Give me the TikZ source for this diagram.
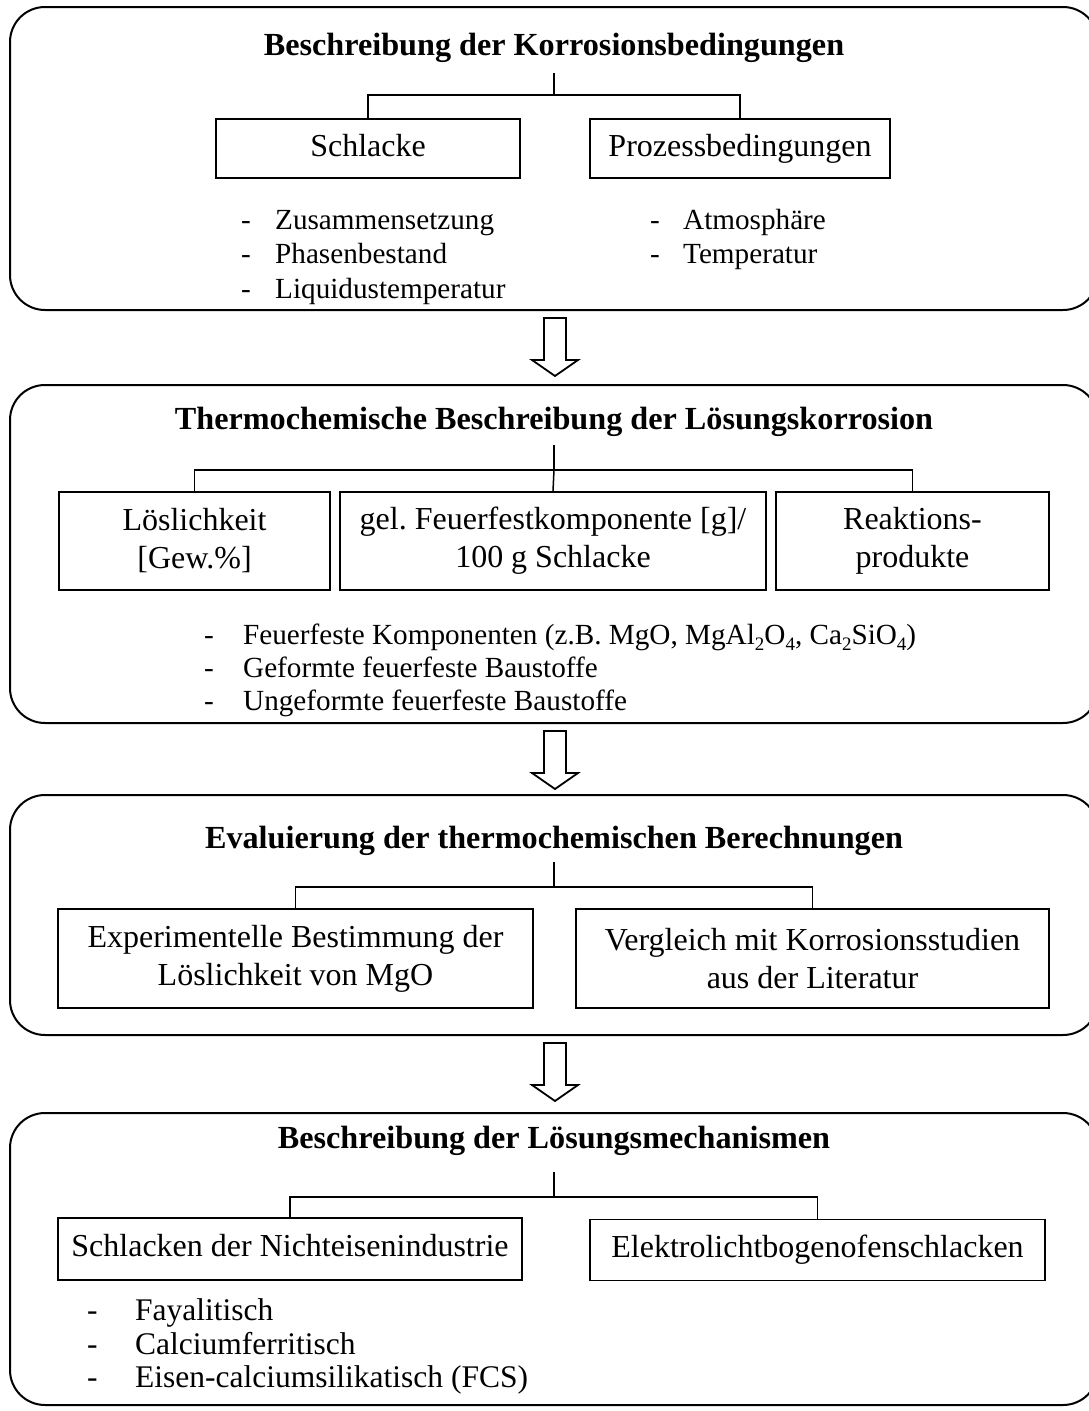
\documentclass[tikz,border=0pt]{standalone}
\usepackage{fontspec}
\setmainfont{Liberation Serif}
\usetikzlibrary{calc}
\newcommand\chemsub[1]{\raisebox{-0.22em}{\fontsize{19}{19}\selectfont #1}}
\begin{document}
\frenchspacing
\begin{tikzpicture}[x=1pt,y=-1pt,
  font=\fontsize{32}{34}\selectfont,
  outer/.style={draw, line width=2pt, rounded corners=35pt, minimum width=1088pt, inner sep=0pt},
  inbox/.style={draw, line width=1.8pt, inner sep=0pt, align=center, text height=22pt, text depth=7pt},
  inboxtwo/.style={draw, line width=1.8pt, inner sep=0pt, align=center, font=\fontsize{32}{38}\selectfont},
  title/.style={font=\fontsize{32.2}{34}\selectfont\bfseries, anchor=base, inner sep=0pt},
  tree/.style={line width=1.5pt},
  hollow/.style={draw, line width=1.8pt, fill=white, line join=miter},
  item/.style={anchor=base west, inner sep=0pt, font=\fontsize{29.2}{34}\selectfont},
  itembig/.style={anchor=base west, inner sep=0pt, font=\fontsize{31.5}{34}\selectfont}
]
\useasboundingbox (0,0) rectangle (1089,1411);
\clip (0,0) rectangle (1089,1411);

% outer boxes
\node[outer, minimum height=303pt] (B1) at (554,158.5) {};
\node[outer, minimum height=338pt] (B2) at (554,554) {};
\node[outer, minimum height=240pt] (B3) at (554,915) {};
\node[outer, minimum height=292pt] (B4) at (554,1259) {};

% hollow arrows
\foreach \b in {B1,B2,B3}{
  \coordinate (a) at ($(\b.south)+(1,7)$);
  \draw[hollow] ($(a)+(-11,0)$) -- ($(a)+(11,0)$) -- ($(a)+(11,42)$) -- ($(a)+(23,42)$)
    -- ($(a)+(0,58)$) -- ($(a)+(-23,42)$) -- ($(a)+(-11,42)$) -- cycle;
}

% ---- Box 1
\node[title] (T1) at (554,55) {Beschreibung der Korrosionsbedingungen};
\node[inbox, minimum width=304pt, minimum height=59pt] (S1) at (368,148.5) {Schlacke};
\node[inbox, minimum width=300pt, minimum height=59pt] (S2) at (740,148.5) {Prozessbedingungen};
\coordinate (v1) at (554,73);
\coordinate (j1) at (554,95);
\draw[tree] (v1) -- (j1);
\draw[tree] (S1.north) |- (j1) -| (S2.north);
\node[item] (l11) at (241,229) {\makebox[34pt][l]{-}Zusammensetzung};
\node[item] (l12) at (241,263) {\makebox[34pt][l]{-}Phasenbestand};
\node[item] (l13) at (241,298) {\makebox[34pt][l]{-}Liquidustemperatur};
\node[item] (r11) at (650,229) {\makebox[33pt][l]{-}Atmosphäre};
\node[item] (r12) at (650,263) {\makebox[33pt][l]{-}Temperatur};

% ---- Box 2
\node[title] (T2) at (554,429) {Thermochemische Beschreibung der Lösungskorrosion};
\node[inboxtwo, minimum width=271pt, minimum height=98pt] (C1) at (194.5,541) {Löslichkeit\\{}[Gew.\%]};
\node[inboxtwo, minimum width=426pt, minimum height=98pt] (C2) at (553,541) {gel. Feuerfestkomponente [g]/\\100 g Schlacke};
\node[inboxtwo, minimum width=273pt, minimum height=98pt] (C3) at (912.5,541) {Reaktions-\\produkte};
\coordinate (v2) at (554,445);
\coordinate (j2) at (554,470);
\draw[tree] (v2) -- (j2);
\draw[tree] (C1.north) |- (j2) -| (C3.north);
\draw[tree] (j2) -- (C2.north);
\node[item] (l21) at (204,644) {\makebox[39pt][l]{-}Feuerfeste Komponenten (z.B. MgO, MgAl\chemsub{2}O\chemsub{4}, Ca\chemsub{2}SiO\chemsub{4})};
\node[item] (l22) at (204,677) {\makebox[39pt][l]{-}Geformte feuerfeste Baustoffe};
\node[item] (l23) at (204,710) {\makebox[39pt][l]{-}Ungeformte feuerfeste Baustoffe};

% ---- Box 3
\node[title] (T3) at (554,848) {Evaluierung der thermochemischen Berechnungen};
\node[inboxtwo, minimum width=475pt, minimum height=99pt] (E1) at (295.5,958.5) {Experimentelle Bestimmung der\\Löslichkeit von MgO};
\node[inboxtwo, minimum width=473pt, minimum height=99pt] (E2) at (812.5,958.5) {Vergleich mit Korrosionsstudien\\aus der Literatur};
\coordinate (v3) at (554,862);
\coordinate (j3) at (554,887);
\draw[tree] (v3) -- (j3);
\draw[tree] (E1.north) |- (j3) -| (E2.north);

% ---- Box 4
\node[title] (T4) at (554,1148) {Beschreibung der Lösungsmechanismen};
\node[inbox, minimum width=464pt, minimum height=62pt] (M1) at (290,1249) {Schlacken der Nichteisenindustrie};
\node[inbox, minimum width=455pt, minimum height=61pt] (M2) at (817.5,1250) {Elektrolichtbogenofenschlacken};
\coordinate (v4) at (554,1172);
\coordinate (j4) at (554,1197);
\draw[tree] (v4) -- (j4);
\draw[tree] (M1.north) |- (j4) -| (M2.north);
\node[itembig] (l41) at (87,1320) {\makebox[48pt][l]{-}Fayalitisch};
\node[itembig] (l42) at (87,1354) {\makebox[48pt][l]{-}Calciumferritisch};
\node[itembig] (l43) at (87,1387) {\makebox[48pt][l]{-}Eisen-calciumsilikatisch (FCS)};
\end{tikzpicture}
\end{document}
